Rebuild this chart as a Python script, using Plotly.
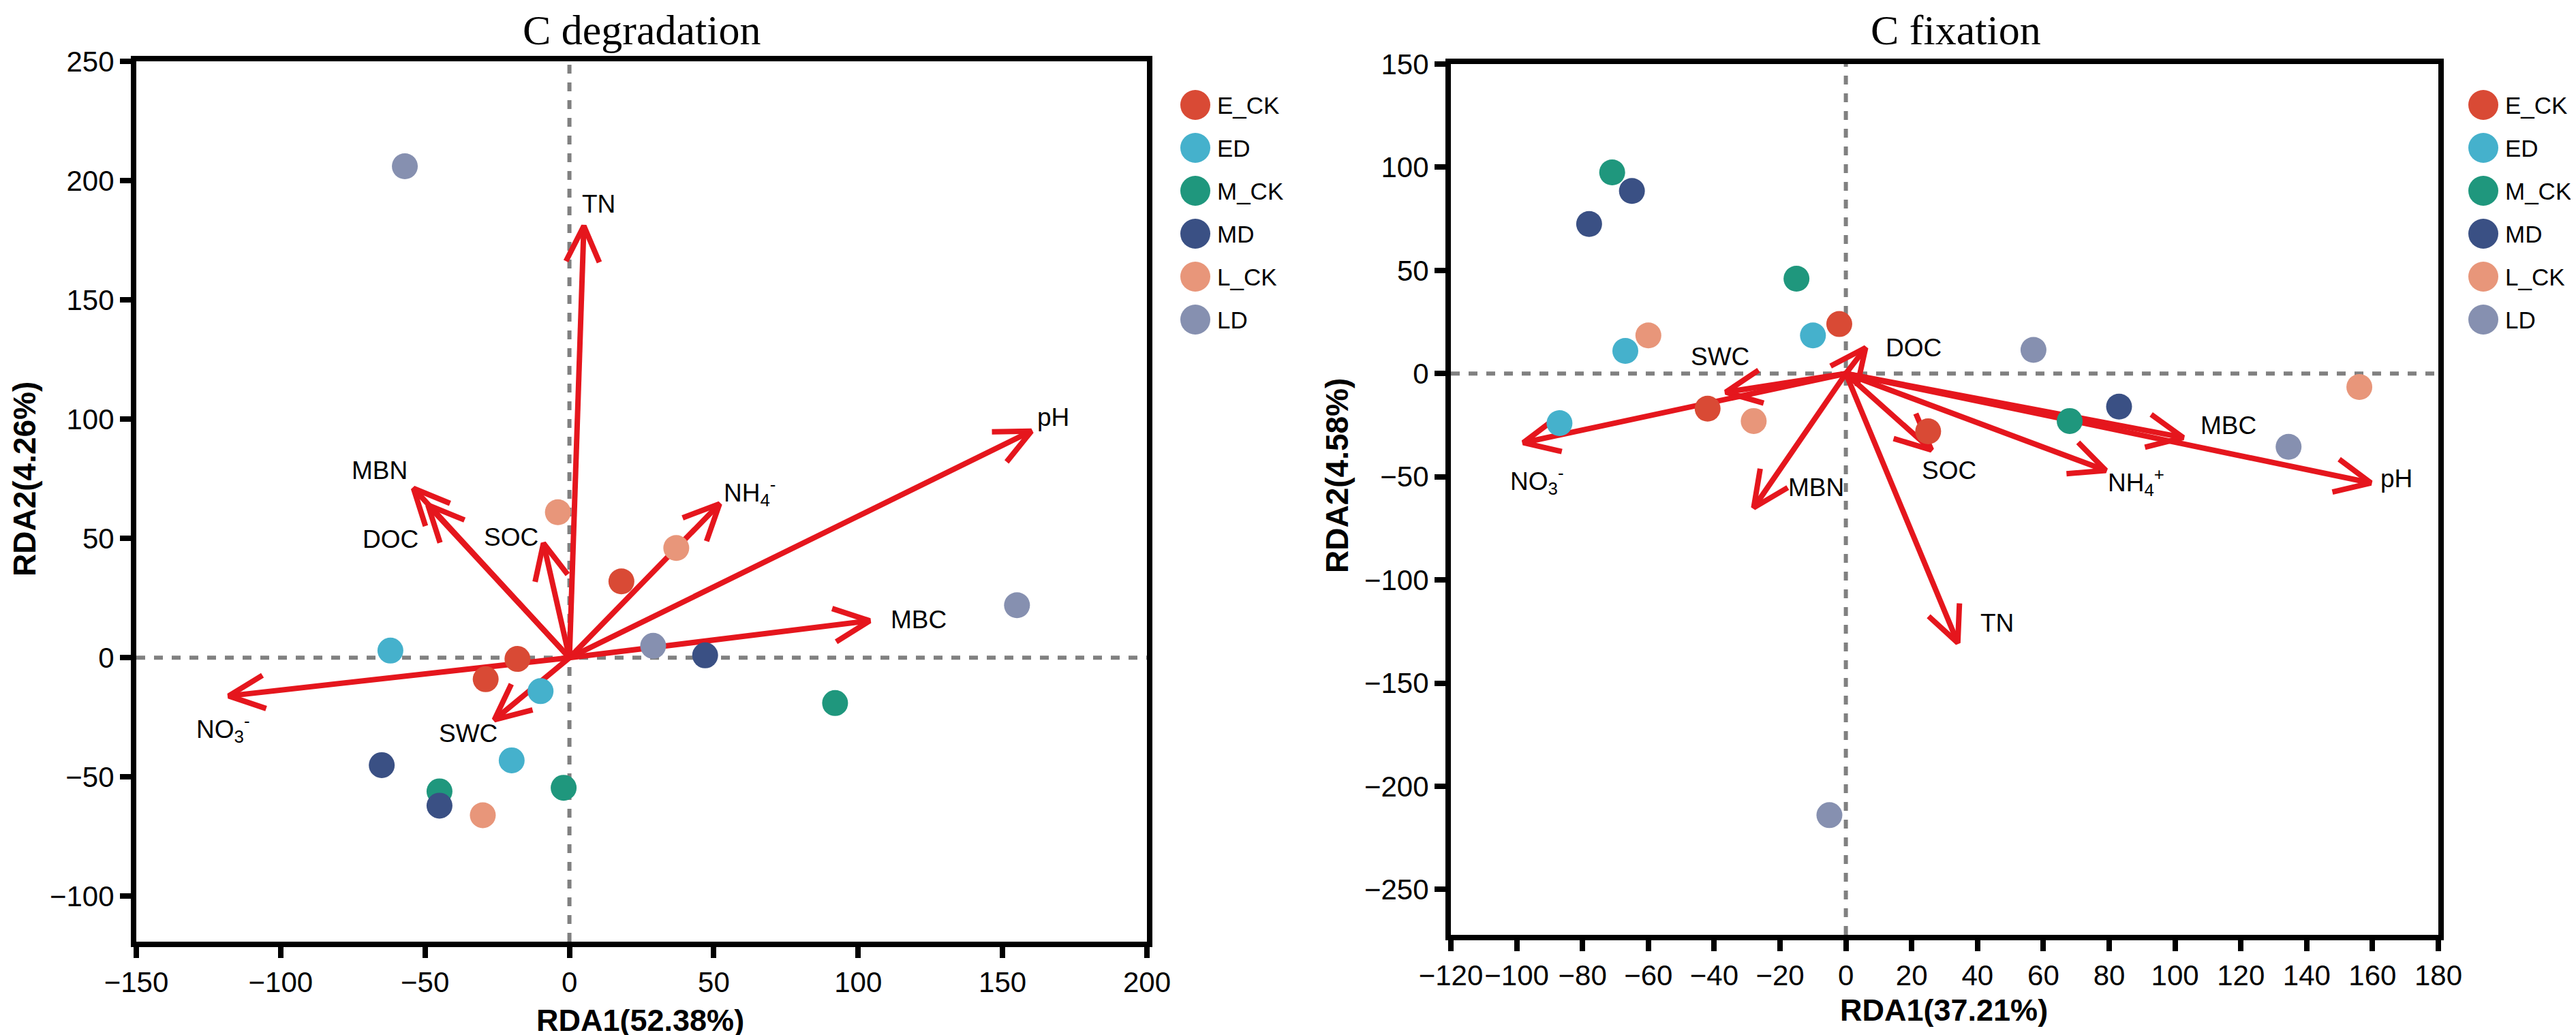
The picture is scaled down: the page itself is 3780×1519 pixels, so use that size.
import numpy as np
import plotly.graph_objects as go

W, H = 3780, 1519

groups = ["E_CK", "ED", "M_CK", "MD", "L_CK", "LD"]
colors = ["#d94a35", "#45b1cc", "#1f977d", "#3a5084", "#e8967a", "#8690b0"]

# sample scores, three replicates per group (same order as groups)
site_group = ["E_CK"] * 3 + ["ED"] * 3 + ["M_CK"] * 3 + ["MD"] * 3 + ["L_CK"] * 3 + ["LD"] * 3

deg_site_x = [18, -18, -29, -62, -10, -20, 92, -2, -45, 47, -65, -45, -4, 37, -30, -57, 155, 29]
deg_site_y = [32, -0.5, -9, 3, -14, -43, -19, -54.5, -56, 1, -45, -62, 61, 46, -66, 206, 22, 5]

fix_site_x = [-2, -42, 25, -10, -67, -87, -71, -15, 68, -65, -78, 83, -60, -28, 156, 57, 134.5, -5]
fix_site_y = [24, -17, -28, 18.5, 11, -24, 97.5, 46, -23, 88.5, 72.5, -16, 18.5, -23, -6.5, 11.5, -35.5, -214]

# environmental factor arrows (tips)
deg_env = ["TN", "pH", "MBN", "DOC", "SOC", "NH4", "MBC", "NO3", "SWC"]
deg_env_label = ["TN", "pH", "MBN", "DOC", "SOC", "NH<sub>4</sub><sup>-</sup>", "MBC",
                 "NO<sub>3</sub><sup>-</sup>", "SWC"]
deg_env_x = [5, 160, -54, -49, -9, 52, 104, -118, -26]
deg_env_y = [181, 95, 71, 64, 48, 64.5, 15.5, -16, -26]

fix_env = ["DOC", "SWC", "NO3", "MBN", "SOC", "NH4", "MBC", "pH", "TN"]
fix_env_label = ["DOC", "SWC", "NO<sub>3</sub><sup>-</sup>", "MBN", "SOC",
                 "NH<sub>4</sub><sup>+</sup>", "MBC", "pH", "TN"]
fix_env_x = [6, -36.5, -98, -28, 26, 79, 102.5, 159.5, 34]
fix_env_y = [12.5, -9, -33.5, -65, -37, -47, -31, -53, -130.5]

# label offsets from arrow tips, in pixels
deg_shift = {"TN": (22, 32), "pH": (32, 20), "MBN": (-50, 26), "DOC": (-55, -50),
             "SOC": (-47, 9), "NH4": (44, 17), "MBC": (72, 2), "NO3": (-8, -48),
             "SWC": (-38, -20)}
fix_shift = {"DOC": (70, 0), "SWC": (-8, 52), "NO3": (20, -56), "MBN": (92, 30),
             "SOC": (26, -30), "NH4": (44, -17), "MBC": (66, 18), "pH": (38, 6),
             "TN": (58, 29)}

RED = "#e5161d"
SANS = "Liberation Sans"
SERIF = "Liberation Serif"


def arrow_lines(ex, ey, sx, sy, head=58, half=np.deg2rad(25)):
    # shaft from origin plus an open V head, head drawn in pixel space
    xs, ys = [], []
    c, s = np.cos(half), np.sin(half)
    for x, y in zip(ex, ey):
        ux, uy = x * sx, y * sy
        n = np.hypot(ux, uy)
        ux, uy = ux / n, uy / n
        a1 = (ux * c - uy * s, ux * s + uy * c)
        a2 = (ux * c + uy * s, -ux * s + uy * c)
        xs += [0, x, None, x - head * a1[0] / sx, x, x - head * a2[0] / sx, None]
        ys += [0, y, None, y - head * a1[1] / sy, y, y - head * a2[1] / sy, None]
    return xs, ys


fig = go.Figure()
annotations = []
shapes = []


def add_panel(n, box, xr, yr, xdt, ydt, sx_, sy_, ex, ey, env, labels, shift, title, xt, yt,
              title_pos, xt_pos, yt_pos):
    x0, y0, x1, y1 = box
    sfx = "" if n == 1 else str(n)
    xa, ya = "x" + sfx, "y" + sfx
    sx = (x1 - x0) / (xr[1] - xr[0])
    sy = (y1 - y0) / (yr[1] - yr[0])

    ax_style = dict(showline=True, linecolor="black", linewidth=8, mirror=True,
                    ticks="outside", ticklen=16, tickwidth=8, tickcolor="black",
                    showgrid=False, zeroline=False, automargin=False, tickangle=0,
                    tickfont=dict(family=SANS, size=42, color="black"))
    fig.layout["xaxis" + sfx] = dict(domain=[x0 / W, x1 / W], range=xr, dtick=xdt, tick0=0,
                                     anchor=ya, **ax_style)
    fig.layout["yaxis" + sfx] = dict(domain=[1 - y1 / H, 1 - y0 / H], range=yr, dtick=ydt, tick0=0,
                                     anchor=xa, **ax_style)

    dash = dict(color="#808080", width=6, dash="13px,13px")
    shapes.append(dict(type="line", xref=xa, yref=ya + " domain", x0=0, x1=0, y0=0, y1=1,
                       line=dash, layer="below"))
    shapes.append(dict(type="line", xref=xa + " domain", yref=ya, x0=0, x1=1, y0=0, y1=0,
                       line=dash, layer="below"))

    lx, ly = arrow_lines(ex, ey, sx, sy)
    fig.add_trace(go.Scatter(x=lx, y=ly, mode="lines", xaxis=xa, yaxis=ya,
                             line=dict(color=RED, width=8), showlegend=False, hoverinfo="skip"))

    for g, col in zip(groups, colors):
        px = [v for v, k in zip(sx_, site_group) if k == g]
        py = [v for v, k in zip(sy_, site_group) if k == g]
        fig.add_trace(go.Scatter(x=px, y=py, mode="markers", xaxis=xa, yaxis=ya, name=g,
                                 marker=dict(size=38, color=col), showlegend=False,
                                 cliponaxis=False))

    for name, lab, x, y in zip(env, labels, ex, ey):
        dx, dy = shift[name]
        annotations.append(dict(x=x, y=y, xref=xa, yref=ya, text=lab, showarrow=False,
                                xshift=dx, yshift=dy, xanchor="center", yanchor="middle",
                                font=dict(family=SANS, size=37, color="black")))

    annotations.append(dict(x=title_pos[0] / W, y=1 - title_pos[1] / H, xref="paper", yref="paper",
                            text=title, showarrow=False, xanchor="center", yanchor="middle",
                            font=dict(family=SERIF, size=62, color="black")))
    annotations.append(dict(x=xt_pos[0] / W, y=1 - xt_pos[1] / H, xref="paper", yref="paper",
                            text="<b>" + xt + "</b>", showarrow=False, xanchor="center",
                            yanchor="middle", font=dict(family=SANS, size=45, color="black")))
    annotations.append(dict(x=yt_pos[0] / W, y=1 - yt_pos[1] / H, xref="paper", yref="paper",
                            text="<b>" + yt + "</b>", showarrow=False, textangle=-90,
                            xanchor="center", yanchor="middle",
                            font=dict(family=SANS, size=46, color="black")))


add_panel(1, (192, 82, 1675, 1374), [-150, 200], [-119, 250], 50, 50,
          deg_site_x, deg_site_y, deg_env_x, deg_env_y, deg_env, deg_env_label, deg_shift,
          "C degradation", "RDA1(52.38%)", "RDA2(4.26%)",
          (934, 36), (931, 1489), (28, 695))
add_panel(2, (2121, 86, 3570, 1364), [-120, 180], [-272, 150], 20, 50,
          fix_site_x, fix_site_y, fix_env_x, fix_env_y, fix_env, fix_env_label, fix_shift,
          "C fixation", "RDA1(37.21%)", "RDA2(4.58%)",
          (2862, 36), (2844, 1474), (1954, 690))

# legends drawn on a pixel-space overlay axis so the symbols can be large
fig.layout["xaxis3"] = dict(domain=[0, 1], range=[0, W], visible=False, fixedrange=True,
                            automargin=False)
fig.layout["yaxis3"] = dict(domain=[0, 1], range=[H, 0], visible=False, fixedrange=True,
                            automargin=False)
for lx0 in (1746, 3636):
    ly0 = [146 + 63 * i for i in range(len(groups))]
    fig.add_trace(go.Scatter(
        x=[lx0] * len(groups), y=ly0, mode="markers",
        marker=dict(size=44, color=colors), xaxis="x3", yaxis="y3",
        showlegend=False, cliponaxis=False, hoverinfo="skip"))
    for g, yy in zip(groups, ly0):
        annotations.append(dict(x=lx0 + 30, y=yy, xref="x3", yref="y3", text=g,
                                showarrow=False, xanchor="left", yanchor="middle",
                                font=dict(family=SANS, size=35, color="black")))

fig.update_layout(width=W, height=H, margin=dict(l=0, r=0, t=0, b=0, autoexpand=False),
                  paper_bgcolor="white", plot_bgcolor="rgba(0,0,0,0)",
                  annotations=annotations, shapes=shapes, showlegend=False)

fig.write_html("out.html")
